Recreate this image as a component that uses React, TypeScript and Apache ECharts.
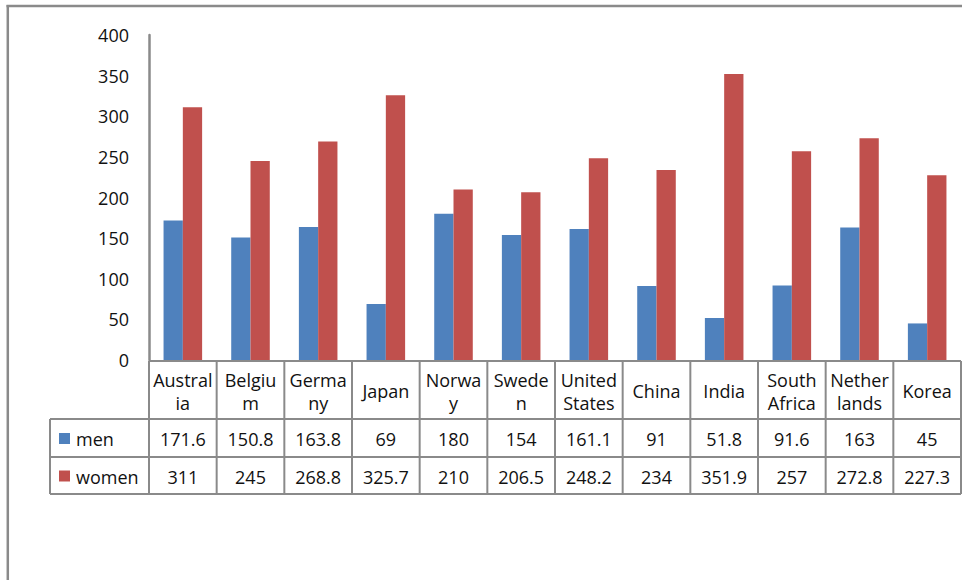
import { useEffect, useRef } from "react";
import * as echarts from "echarts";

const countries = ["Australia", "Belgium", "Germany", "Japan", "Norway", "Sweden", "United States", "China", "India", "South Africa", "Netherlands", "Korea"];
const headerLabels = ["Austral\nia", "Belgiu\nm", "Germa\nny", "Japan", "Norwa\ny", "Swede\nn", "United\nStates", "China", "India", "South\nAfrica", "Nether\nlands", "Korea"];
const seriesNames = ["men", "women"];
const men = [171.6, 150.8, 163.8, 69, 180, 154, 161.1, 91, 51.8, 91.6, 163, 45];
const women = [311, 245, 268.8, 325.7, 210, 206.5, 248.2, 234, 351.9, 257, 272.8, 227.3];
const yTicks = { min: 0, max: 400, interval: 50 };

const COLORS = ["#4F81BD", "#C0504D"];
const LINE = "#8a8a8a";
const FONT = "'Open Sans', 'Noto Sans', sans-serif";
const FS = 18;

const GRID_LEFT = 149;
const GRID_TOP = 35;
const GRID_W = 812;
const GRID_H = 325;
const HEADER_TOP = 361;
const ROW_TOPS = [419, 457];
const TABLE_BOTTOM = 494;
const LEGEND_LEFT = 50;

export default function App() {
  const ref = useRef<HTMLDivElement>(null);
  useEffect(() => {
    if (!ref.current) return;
    const chart = echarts.init(ref.current, undefined, { renderer: "svg" });
    const n = countries.length;
    const catW = GRID_W / n;
    const right = GRID_LEFT + GRID_W;
    const graphics: any[] = [];
    const line = (x1: number, y1: number, x2: number, y2: number, w = 2) =>
      graphics.push({ type: "line", shape: { x1, y1, x2, y2 }, style: { stroke: LINE, lineWidth: w }, silent: true });

    // outer frame
    line(6.5, 6, 962, 6, 2.5);
    line(7.8, 5, 7.8, 580, 2.5);

    // table lines
    line(GRID_LEFT, HEADER_TOP, right, HEADER_TOP);
    [...ROW_TOPS, TABLE_BOTTOM].forEach((y) => line(LEGEND_LEFT, y, right, y));
    line(LEGEND_LEFT, ROW_TOPS[0], LEGEND_LEFT, TABLE_BOTTOM);
    for (let i = 0; i <= n; i++) {
      const x = GRID_LEFT + i * catW;
      line(x, HEADER_TOP, x, TABLE_BOTTOM);
    }

    // header labels
    headerLabels.forEach((lab, i) => {
      graphics.push({
        type: "text",
        x: GRID_LEFT + (i + 0.5) * catW,
        y: (HEADER_TOP + ROW_TOPS[0]) / 2 + 1,
        style: { text: lab, font: `${FS}px ${FONT}`, fill: "#111", align: "center", verticalAlign: "middle", lineHeight: 23 },
        silent: true,
      });
    });

    // data rows
    const rows = [men, women];
    rows.forEach((vals, r) => {
      const top = ROW_TOPS[r];
      const bottom = r + 1 < ROW_TOPS.length ? ROW_TOPS[r + 1] : TABLE_BOTTOM;
      const cy = (top + bottom) / 2 + 1;
      graphics.push({
        type: "rect",
        shape: { x: 59, y: cy - 6, width: 11, height: 11 },
        style: { fill: COLORS[r] },
        silent: true,
      });
      graphics.push({
        type: "text",
        x: 76,
        y: cy,
        style: { text: seriesNames[r], font: `${FS}px ${FONT}`, fill: "#111", align: "left", verticalAlign: "middle" },
        silent: true,
      });
      vals.forEach((v, i) => {
        graphics.push({
          type: "text",
          x: GRID_LEFT + (i + 0.5) * catW,
          y: cy,
          style: { text: String(v), font: `${FS}px ${FONT}`, fill: "#111", align: "center", verticalAlign: "middle" },
          silent: true,
        });
      });
    });

    chart.setOption({
      animation: false,
      backgroundColor: "#ffffff",
      grid: { left: GRID_LEFT, top: GRID_TOP, width: GRID_W, height: GRID_H, containLabel: false },
      xAxis: {
        type: "category",
        data: countries,
        axisLine: { show: false },
        axisTick: { show: false },
        axisLabel: { show: false },
        splitLine: { show: false },
      },
      yAxis: {
        type: "value",
        min: yTicks.min,
        max: yTicks.max,
        interval: yTicks.interval,
        axisLine: { show: true, lineStyle: { color: LINE, width: 2.5 } },
        axisTick: { show: false },
        splitLine: { show: false },
        axisLabel: { color: "#111", fontSize: FS, fontFamily: FONT, margin: 20, padding: [6, 0, 0, 0] },
      },
      series: [
        { name: seriesNames[0], type: "bar", data: men, itemStyle: { color: COLORS[0] }, barGap: "0%", barCategoryGap: "43%" },
        { name: seriesNames[1], type: "bar", data: women, itemStyle: { color: COLORS[1] }, barGap: "0%", barCategoryGap: "43%" },
      ],
      graphic: graphics,
    });
    return () => chart.dispose();
  }, []);
  return <div ref={ref} style={{ position: "fixed", left: 0, top: 0, width: 962, height: 580, background: "#fff" }} />;
}
